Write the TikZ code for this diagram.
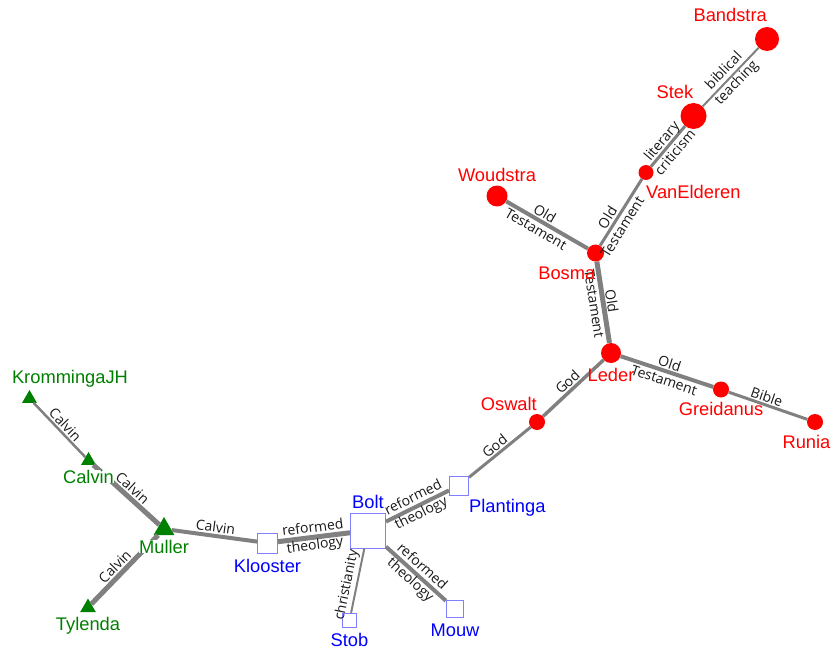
\documentclass[tikz,border=0pt]{standalone}
\usepackage{fontspec}
\setmainfont{Liberation Sans}
\newfontfamily\edgefont{Open Sans}
\usetikzlibrary{positioning,shapes.geometric}

\begin{document}
\begin{tikzpicture}[x=1pt, y=-1pt,
  redball/.style={circle, fill=red, inner sep=0pt, minimum size=#1},
  bluebox/.style={rectangle, draw=blue!50, fill=white, line width=1pt, inner sep=0pt, minimum size=#1},
  greentri/.style={regular polygon, regular polygon sides=3, fill=green!50!black, inner sep=0pt, minimum size=#1},
  rlab/.style={font=\fontsize{18.3}{21}\selectfont, text=red, inner sep=0pt, text height=13pt, text depth=0pt},
  blab/.style={rlab, text=blue},
  glab/.style={rlab, text=green!50!black, fill=white},
  tie/.style={draw=gray, line width=#1},
  tag/.style={sloped, font=\edgefont\fontsize{14}{17.5}\selectfont, text=black!90, align=center, inner sep=1.5pt}]
  \useasboundingbox (0,0) rectangle (832,650);

  % people
  \node[redball=24pt] (bandstra)   at (767,39)     {};
  \node[redball=26pt] (stek)       at (693.5,116)  {};
  \node[redball=15pt] (vanelderen) at (646,172.5)  {};
  \node[redball=21pt] (woudstra)   at (497,196)    {};
  \node[redball=17pt] (bosma)      at (595.5,253)  {};
  \node[redball=20pt] (leder)      at (611,353)    {};
  \node[redball=16pt] (greidanus)  at (721,389.5)  {};
  \node[redball=16pt] (runia)      at (815,422)    {};
  \node[redball=16pt] (oswalt)     at (537,422)    {};
  \node[bluebox=19pt]   (plantinga) at (459,485.5) {};
  \node[bluebox=35pt]   (bolt)      at (368,530.5) {};
  \node[bluebox=20pt]   (klooster)  at (267.5,543) {};
  \node[bluebox=14.5pt] (stob)      at (349.5,620.5) {};
  \node[bluebox=17.5pt] (mouw)      at (455,609)   {};
  \node[greentri=24pt] (muller)    at (164,529)    {};
  \node[greentri=17pt] (calvin)    at (88.5,460.5) {};
  \node[greentri=17pt] (kromminga) at (29.5,398.5) {};
  \node[greentri=18pt] (tylenda)   at (88,607.5)   {};

  % shared topics
  \draw[tie=2pt]   (stek) -- node[tag] {biblical\\teaching} (bandstra);
  \draw[tie=3pt]   (vanelderen) -- node[tag] {literary\\criticism} (stek);
  \draw[tie=3pt]   (bosma) -- node[tag, pos=0.35] {Old\\Testament} (vanelderen);
  \draw[tie=4pt]   (woudstra) -- node[tag, pos=0.42] {Old\\Testament} (bosma);
  \draw[tie=5pt]   (bosma) -- node[tag] {Old\\Testament} (leder);
  \draw[tie=4pt]   (leder) -- node[tag] {Old\\Testament} (greidanus);
  \draw[tie=3pt]   (greidanus) -- node[tag, above, pos=0.45] {Bible} (runia);
  \draw[tie=3.5pt] (oswalt) -- node[tag, above] {God} (leder);
  \draw[tie=3pt]   (plantinga) -- node[tag, above] {God} (oswalt);
  \draw[tie=4pt]   (bolt) -- node[tag] {reformed\\theology} (plantinga);
  \draw[tie=5pt]   (klooster) -- node[tag] {reformed\\theology} (bolt);
  \draw[tie=2pt]   (bolt) -- node[tag, above, pos=0.6] {christianity} (stob);
  \draw[tie=4pt]   (bolt) -- node[tag] {reformed\\theology} (mouw);
  \draw[tie=4pt]   (muller) -- node[tag, above] {Calvin} (klooster);
  \draw[tie=5pt]   (calvin) -- node[tag, above] {Calvin} (muller);
  \draw[tie=2.5pt] (kromminga) -- node[tag, above] {Calvin} (calvin);
  \draw[tie=5pt]   (tylenda) -- node[tag, above, pos=0.45] {Calvin} (muller);

  % names
  \node[rlab, above=5pt of bandstra, anchor=south east] (bandstraL) {Bandstra};
  \node[rlab, above=4pt of stek, anchor=south east] (stekL) {Stek};
  \node[rlab, below=5pt of vanelderen, anchor=north west] (vanelderenL) {VanElderen};
  \node[rlab, above=4pt of woudstra] (woudstraL) {Woudstra};
  \node[rlab, below=5pt of bosma, anchor=north east] (bosmaL) {Bosma};
  \node[rlab, below=5pt of leder] (lederL) {Leder};
  \node[rlab, below=5pt of greidanus] (greidanusL) {Greidanus};
  \node[rlab, below=5pt of runia, xshift=-8.5pt] (runiaL) {Runia};
  \node[rlab, above=3pt of oswalt, anchor=south east] (oswaltL) {Oswalt};
  \node[blab, below right=4pt and 0pt of plantinga] (plantingaL) {Plantinga};
  \node[blab, above=4pt of bolt] (boltL) {Bolt};
  \node[blab, below=5.5pt of klooster] (kloosterL) {Klooster};
  \node[blab, below=5pt of stob] (stobL) {Stob};
  \node[blab, below=5pt of mouw] (mouwL) {Mouw};
  \node[glab, below=5pt of muller] (mullerL) {Muller};
  \node[glab, below=5pt of calvin] (calvinL) {Calvin};
  \node[glab, above=6pt of kromminga, xshift=40.5pt] (krommingaL) {KrommingaJH};
  \node[glab, below=5pt of tylenda] (tylendaL) {Tylenda};
\end{tikzpicture}
\end{document}
